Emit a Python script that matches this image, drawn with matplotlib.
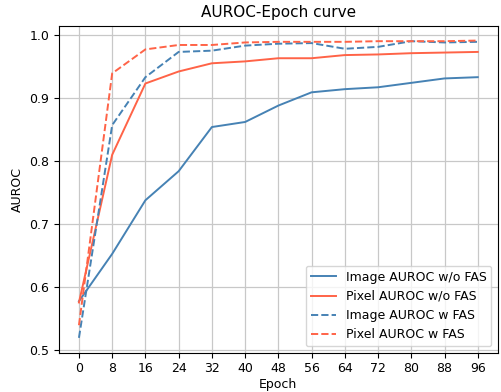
import matplotlib
matplotlib.use("Agg")
import matplotlib.pyplot as plt

epochs = [0, 8, 16, 24, 32, 40, 48, 56, 64, 72, 80, 88, 96]
image_wo_fas = [0.578, 0.653, 0.738, 0.784, 0.854, 0.862, 0.888, 0.909, 0.914, 0.917, 0.924, 0.931, 0.933]
pixel_wo_fas = [0.576, 0.810, 0.923, 0.942, 0.955, 0.958, 0.963, 0.963, 0.968, 0.969, 0.971, 0.972, 0.973]
image_w_fas = [0.520, 0.857, 0.933, 0.973, 0.975, 0.983, 0.986, 0.987, 0.978, 0.981, 0.990, 0.988, 0.989]
pixel_w_fas = [0.540, 0.939, 0.977, 0.984, 0.984, 0.988, 0.989, 0.989, 0.989, 0.990, 0.990, 0.990, 0.991]
labels = ["Image AUROC w/o FAS", "Pixel AUROC w/o FAS", "Image AUROC w FAS", "Pixel AUROC w FAS"]
yticks = [0.5, 0.6, 0.7, 0.8, 0.9, 1.0]

blue = "#4682B4"
red = "#FF6347"

fig = plt.figure(figsize=(5.01, 3.92), dpi=100)
ax = fig.add_axes([59/501, 1 - 352.7/392, (497.7 - 59)/501, (352.7 - 25.7)/392])

lw = 1.4
ax.plot(epochs, image_wo_fas, color=blue, lw=lw, label=labels[0])
ax.plot(epochs, pixel_wo_fas, color=red, lw=lw, label=labels[1])
ax.plot(epochs, image_w_fas, color=blue, lw=lw, ls="--", label=labels[2])
ax.plot(epochs, pixel_w_fas, color=red, lw=lw, ls="--", label=labels[3])

ax.set_xticks(epochs)
ax.set_yticks(yticks)
ax.tick_params(labelsize=9)
ax.grid(True, color="#c8c8c8", lw=0.9)
ax.set_title("AUROC-Epoch curve", fontsize=11)
ax.set_xlabel("Epoch", fontsize=9, labelpad=1.5)
ax.set_ylabel("AUROC", fontsize=9)
ax.legend(loc="lower right", fontsize=9)

fig.savefig("out.png", dpi=100)
